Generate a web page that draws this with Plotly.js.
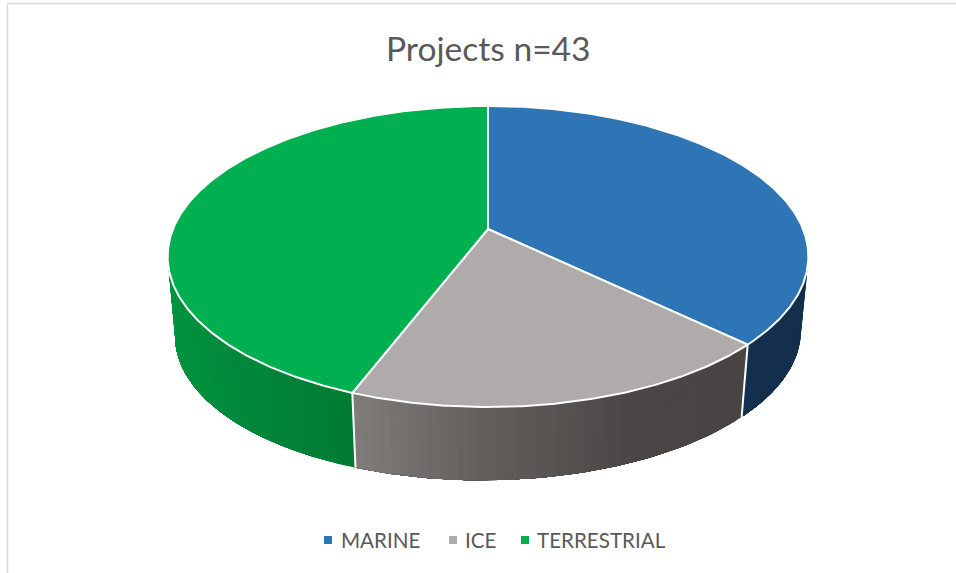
<!DOCTYPE html>
<html>
<head>
<meta charset="utf-8">
<script src="https://cdn.plot.ly/plotly-3.0.1.min.js"></script>
<style>html,body{margin:0;padding:0;background:#fff}#chart{width:956px;height:573px}</style>
</head>
<body>
<div id="chart"></div>
<script>
// Project counts per domain
const categories = ['MARINE', 'ICE', 'TERRESTRIAL'];
const projects = [16, 8, 19];
const topColors = ['#2E75B6', '#AFABAB', '#00B050'];
const chartTitle = 'Projects n=43';

// Wall shading from left to right across the visible rim of each slice
const wallShades = {
  MARINE: [[19, 47, 77], [19, 47, 77]],
  ICE: [[128, 124, 122], [96, 92, 90], [72, 69, 68], [71, 68, 67]],
  TERRESTRIAL: [[0, 152, 66], [0, 140, 60], [0, 123, 52]]
};

// Perspective disc geometry, in pixels on the page-sized axes
const apex = {x: 488, y: 229};
const rx = 315, ry = 145.5, tilt = 0.1827;
const vanishY = 3550, drop = 0.0233, baseRoll = 0.009;
const DEG = Math.PI / 180;
const silhouette = Math.acos(-tilt) / DEG;

// Angle is clockwise from the far side of the disc
function topPoint(deg) {
  const s = Math.sin(deg * DEG), c = Math.cos(deg * DEG), p = 1 / (1 + tilt * c);
  return [apex.x + rx * s * p, apex.y - ry * c * p];
}
function basePoint(deg) {
  const [x, y] = topPoint(deg);
  return [x + (apex.x - x) * drop, y + (vanishY - y) * drop - (x - apex.x) * baseRoll];
}
function arc(fn, a, b, step) {
  const n = Math.max(1, Math.ceil(Math.abs(b - a) / step)), out = [];
  for (let i = 0; i <= n; i++) out.push(fn(a + (b - a) * i / n));
  return out;
}
function shade(stops, t) {
  const u = t * (stops.length - 1), i = Math.min(Math.floor(u), stops.length - 2), f = u - i;
  const c = stops[i].map((v, k) => Math.round(v + (stops[i + 1][k] - v) * f));
  return `rgb(${c[0]},${c[1]},${c[2]})`;
}
function poly(pts, fill, line, width) {
  return {
    x: pts.map(p => p[0]), y: pts.map(p => p[1]),
    type: 'scatter', mode: 'lines', fill: 'toself', fillcolor: fill,
    line: {color: line, width: width}, hoverinfo: 'skip', showlegend: false
  };
}

const total = projects.reduce((a, b) => a + b, 0);
const traces = [];
const faces = [];
const dividers = [];
let start = 0;
projects.forEach((v, i) => {
  const end = start + v / total * 360;
  // Only the near rim of the disc shows a wall
  const from = Math.max(start, silhouette), to = Math.min(end, 360 - silhouette);
  if (to > from) {
    const stops = wallShades[categories[i]];
    const strips = Math.ceil((to - from) / 1.5);
    for (let k = 0; k < strips; k++) {
      // Each band runs on to the end of the wall and the next one paints over it, which leaves no seams
      const a = from + (to - from) * k / strips;
      const color = shade(stops, 1 - (k + 0.5) / strips);
      traces.push(poly([...arc(topPoint, a, to, 1), ...arc(basePoint, to, a, 1)], color, 'rgba(0,0,0,0)', 0));
    }
  }
  faces.push(poly([[apex.x, apex.y], ...arc(topPoint, start, end, 0.5), [apex.x, apex.y]], topColors[i], '#FFFFFF', 2));
  if (start > silhouette && start < 360 - silhouette) {
    const p = topPoint(start), q = basePoint(start);
    dividers.push({x: [p[0], q[0]], y: [p[1], q[1]], type: 'scatter', mode: 'lines',
      line: {color: '#FFFFFF', width: 2}, hoverinfo: 'skip', showlegend: false});
  }
  start = end;
});
traces.push(...dividers, ...faces);

// Legend row under the disc
const legendMarkerX = [328, 453, 525];
const legendTextX = [341, 465, 537];
const legendY = 540;
traces.push({
  x: legendMarkerX, y: categories.map(() => legendY), type: 'scatter', mode: 'markers',
  marker: {symbol: 'square', size: 8, color: topColors}, hoverinfo: 'skip', showlegend: false
});

const layout = {
  width: 956, height: 573,
  margin: {l: 0, r: 0, t: 0, b: 0},
  paper_bgcolor: '#FFFFFF', plot_bgcolor: '#FFFFFF',
  showlegend: false,
  xaxis: {range: [0, 956], visible: false, fixedrange: true},
  yaxis: {range: [573, 0], visible: false, fixedrange: true},
  shapes: [
    {type: 'line', x0: 7.5, x1: 7.5, y0: 3.5, y1: 573, line: {color: '#D9D9D9', width: 1.5}},
    {type: 'line', x0: 7.5, x1: 956, y0: 3.5, y1: 3.5, line: {color: '#D9D9D9', width: 1.5}}
  ],
  annotations: [
    {text: chartTitle, x: 488, y: 47.5, xref: 'x', yref: 'y', showarrow: false, xanchor: 'center', yanchor: 'middle',
     font: {family: 'Lato', size: 33.6, color: '#595959'}},
    ...categories.map((c, i) => ({
      text: c, x: legendTextX[i], y: legendY, xref: 'x', yref: 'y', showarrow: false,
      xanchor: 'left', yanchor: 'middle', xshift: -2,
      font: {family: 'Lato', size: 20.6, color: '#595959'}
    }))
  ]
};

Plotly.newPlot('chart', traces, layout, {staticPlot: true, displayModeBar: false});
</script>
</body>
</html>
